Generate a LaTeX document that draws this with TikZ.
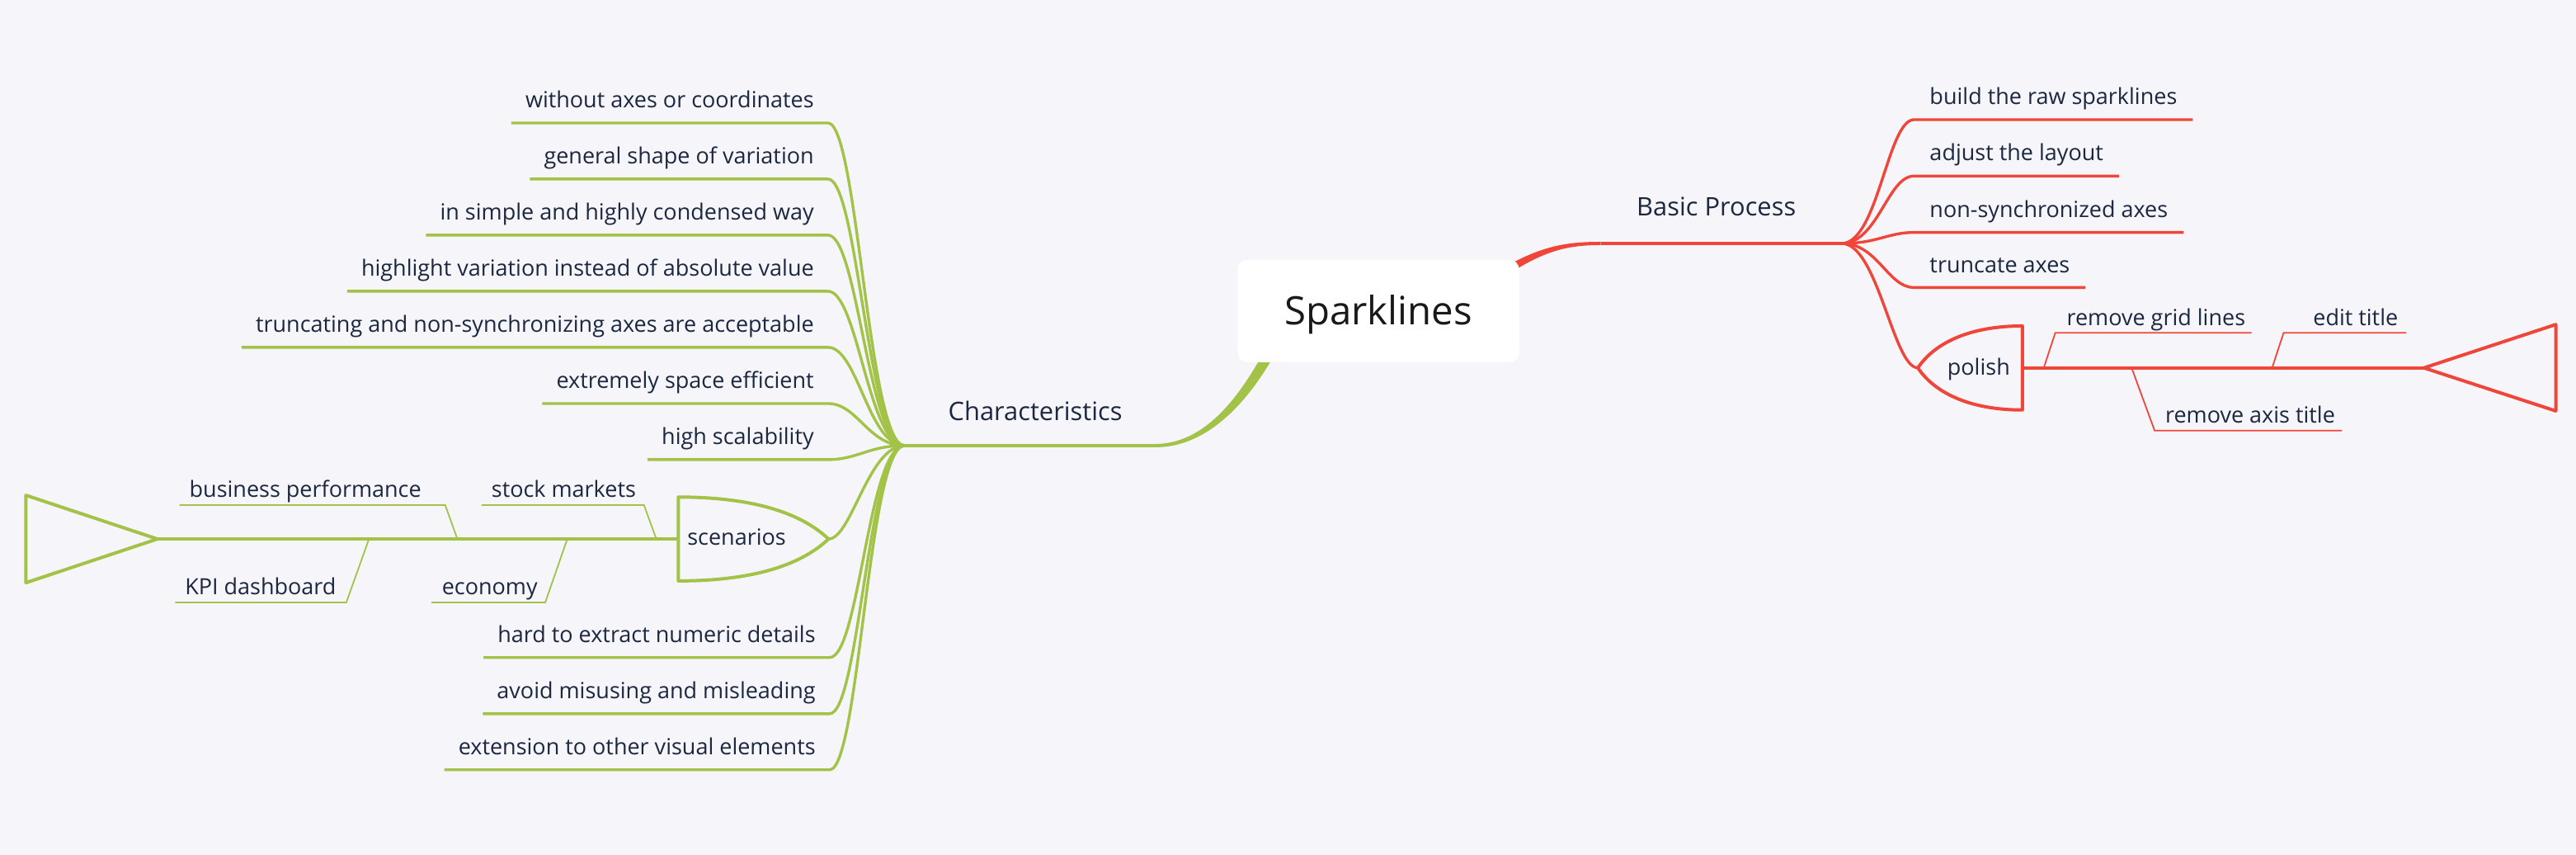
\documentclass[tikz,border=0pt]{standalone}
\usepackage{fontspec}
\setmainfont{Open Sans}
\usetikzlibrary{calc}
\definecolor{bg}{HTML}{F5F5FA}
\definecolor{rd}{HTML}{F0463A}
\definecolor{gr}{HTML}{A2C347}
\definecolor{ink}{HTML}{1C2740}
\begin{document}
\begin{tikzpicture}[x=1pt,y=-1pt,
  leafL/.style={font=\fontsize{13.55}{15}\selectfont, text=ink, inner xsep=8.6pt, inner ysep=6.2pt, text height=10pt, text depth=3pt, outer sep=0pt},
  leafR/.style={leafL, inner xsep=9.6pt},
  ftext/.style={font=\fontsize{13.55}{15}\selectfont, text=ink, inner sep=0pt, outer sep=0pt},
  maintext/.style={font=\fontsize{15.5}{18}\selectfont, text=ink, inner sep=0pt},
  rootbox/.style={fill=white, rounded corners=6pt, minimum width=171.5pt, minimum height=62.4pt, inner sep=0pt, font=\fontsize{23.8}{28}\selectfont, text=black!90, text height=16.8pt, text depth=0pt},
  gline/.style={draw=gr, line width=1.7pt},
  rline/.style={draw=rd, line width=1.7pt},
  gshape/.style={draw=gr, line width=2pt, line join=round},
  rshape/.style={draw=rd, line width=2pt, line join=round},
  gthin/.style={draw=gr, line width=0.9pt},
  rthin/.style={draw=rd, line width=0.9pt}
]
\fill[bg] (0,0) rectangle (1568,520);
\useasboundingbox (0,0) rectangle (1568,520);

% ---------- hubs ----------
\coordinate (hubG) at (550.6,271.1);
\coordinate (hubR) at (1121,148.1);
\coordinate (charE) at (703,271.1);
\coordinate (bpS) at (974.4,148.1);

% ---------- tapered root connectors ----------
\fill[gr] (775.3,202.6) .. controls (757.3,238.6) and (735,270.1) .. (703,270.1)
  -- (703,272.1) .. controls (736.5,272.3) and (763.2,241.6) .. (781.2,205.6) -- cycle;
\fill[rd] (903.6,169.8) .. controls (934,150.5) and (950,147.1) .. (974.4,147.1)
  -- (974.4,149.1) .. controls (950,149.1) and (936.5,154) .. (906.6,174.2) -- cycle;

\draw[draw=gr, line width=2pt] (charE) -- (hubG);
\draw[draw=rd, line width=2pt] (bpS) -- (hubR);

% ---------- root ----------
\node[rootbox] (root) at (839,189.2) {Sparklines};

% ---------- main topic labels ----------
\node[maintext, anchor=base west] (char) at (577,255.6) {Characteristics};
\node[maintext, anchor=base west] (bp) at (996,131.5) {Basic Process};

% ---------- green leaves ----------
\node[leafL, anchor=south east] (g1) at (504,74.8) {without axes or coordinates};
\node[leafL, anchor=south east] (g2) at (504,108.9) {general shape of variation};
\node[leafL, anchor=south east] (g3) at (504,143.0) {in simple and highly condensed way};
\node[leafL, anchor=south east] (g4) at (504,177.2) {highlight variation instead of absolute value};
\node[leafL, anchor=south east] (g5) at (504,211.3) {truncating and non-synchronizing axes are acceptable~};
\node[leafL, anchor=south east] (g6) at (504,245.5) {extremely space efficient};
\node[leafL, anchor=south east] (g7) at (504,279.6) {high scalability};
\node[leafL, anchor=south east] (g9) at (505,400.0) {hard to extract numeric details};
\node[leafL, anchor=south east] (g10) at (505,434.2) {avoid misusing and misleading};
\node[leafL, anchor=south east] (g11) at (505,468.3) {extension to other visual elements};
\foreach \n in {g1,g2,g3,g4,g5,g6,g7,g9,g10,g11}{
  \draw[gline] (hubG) .. controls +(-22,0) and +(18,0) .. (\n.south east) -- (\n.south west);
}

% ---------- scenarios ----------
\coordinate (scP) at (504.3,327.9);
\coordinate (scL) at (412.9,327.9);
\draw[gline] (hubG) .. controls +(-22,0) and +(14,0) .. (scP);
\draw[gshape] (412.9,302.4) .. controls (457,302.4) and (487,311.5) .. (scP)
  .. controls (487,344.3) and (457,353.4) .. (412.9,353.4) -- cycle;
\node[ftext, anchor=base] (scen) at (448.4,331.4) {scenarios};
\coordinate (triG) at (95.8,327.9);
\draw[gshape] (scL) -- (triG);
\draw[gshape] (triG) -- (15.8,301.3) -- (15.8,354.5) -- cycle;

\coordinate (s1a) at (399.5,327.9); \coordinate (s1b) at (392,307.3); \coordinate (s1c) at (293.2,307.3);
\coordinate (s2a) at (278.4,327.9); \coordinate (s2b) at (271,307.3); \coordinate (s2c) at (109.3,307.3);
\coordinate (s3a) at (224.6,327.9); \coordinate (s3b) at (210.8,366.5); \coordinate (s3c) at (106.6,366.5);
\coordinate (s4a) at (345.3,327.9); \coordinate (s4b) at (331.9,366.5); \coordinate (s4c) at (262.6,366.5);
\draw[gthin] (s1a) -- (s1b) -- (s1c);
\draw[gthin] (s2a) -- (s2b) -- (s2c);
\draw[gthin] (s3a) -- (s3b) -- (s3c);
\draw[gthin] (s4a) -- (s4b) -- (s4c);
\node[ftext, anchor=base west] (stock) at (299.2,302.6) {stock markets};
\node[ftext, anchor=base west] (busi) at (115.3,302.6) {business performance};
\node[ftext, anchor=base west] (kpi) at (112.6,361.5) {KPI dashboard};
\node[ftext, anchor=base west] (econ) at (269,361.5) {economy};

% ---------- red leaves ----------
\node[leafR, anchor=south west] (r1) at (1165,72.8) {build the raw sparklines};
\node[leafR, anchor=south west] (r2) at (1165,107.1) {adjust the layout};
\node[leafR, anchor=south west] (r3) at (1165,141.4) {non-synchronized axes};
\node[leafR, anchor=south west] (r4) at (1165,174.9) {truncate axes};
\foreach \n in {r1,r2,r3,r4}{
  \draw[rline] (hubR) .. controls +(22,0) and +(-16,0) .. (\n.south west) -- (\n.south east);
}

% ---------- polish ----------
\coordinate (polP) at (1167.4,223.8);
\coordinate (polR) at (1231,223.8);
\draw[rline] (hubR) .. controls +(22,0) and +(-15,0) .. (polP);
\draw[rshape] (1231,198.3) -- (1231,249.4) .. controls (1200,249.4) and (1178,239.6) .. (polP)
  .. controls (1178,208) and (1200,198.3) .. cycle;
\node[ftext, anchor=base] (pol) at (1204.4,228) {polish};
\coordinate (triR) at (1475.4,223.8);
\draw[rshape] (polR) -- (triR);
\draw[rshape] (triR) -- (1555.7,197.4) -- (1555.7,250) -- cycle;

\coordinate (p1a) at (1244,223.8); \coordinate (p1b) at (1251,202.5); \coordinate (p1c) at (1370.5,202.5);
\coordinate (p2a) at (1383,223.8); \coordinate (p2b) at (1390,202.5); \coordinate (p2c) at (1464.6,202.5);
\coordinate (p3a) at (1297.5,223.8); \coordinate (p3b) at (1311.5,262); \coordinate (p3c) at (1425.5,262);
\draw[rthin] (p1a) -- (p1b) -- (p1c);
\draw[rthin] (p2a) -- (p2b) -- (p2c);
\draw[rthin] (p3a) -- (p3b) -- (p3c);
\node[ftext, anchor=base west] (grid) at (1258,198) {remove grid lines};
\node[ftext, anchor=base west] (edit) at (1408,198) {edit title};
\node[ftext, anchor=base west] (axt) at (1318,257.5) {remove axis title};
\end{tikzpicture}
\end{document}
